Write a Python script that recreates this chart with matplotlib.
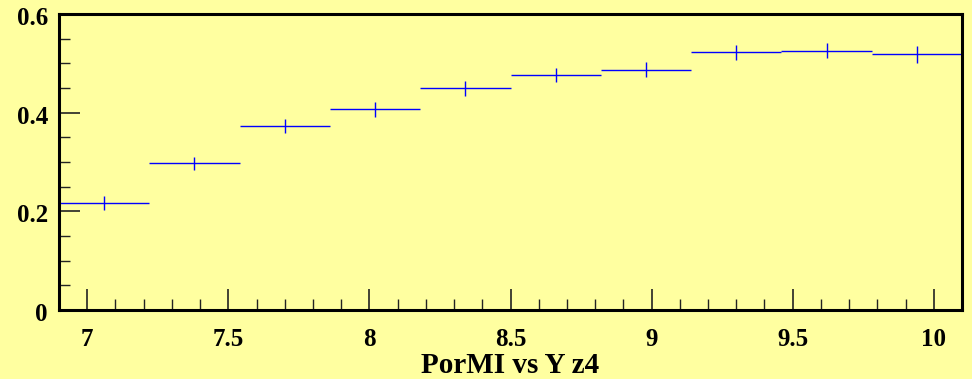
import matplotlib.pyplot as plt
import matplotlib.transforms as mtransforms
import numpy as np
from matplotlib.ticker import MultipleLocator

# histogram bins and content
bin_edges = [6.9, 7.22, 7.54, 7.86, 8.18, 8.5, 8.82, 9.14, 9.46, 9.78, 10.1]
values = [0.217, 0.297, 0.373, 0.407, 0.449, 0.476, 0.487, 0.522, 0.526, 0.518]
errors = [0.0146, 0.0135, 0.0145, 0.015, 0.015, 0.0145, 0.0155, 0.015, 0.0155, 0.017]
title = 'PorMI vs Y z4'

bg = '#ffffa0'
plt.rcParams['font.family'] = 'Liberation Serif'
plt.rcParams['font.weight'] = 'bold'

fig = plt.figure(figsize=(9.72, 3.79), dpi=100, facecolor=bg)
ax = fig.add_axes([59/972, 1 - 310/379, (962 - 59)/972, (310 - 14)/379])
ax.set_facecolor(bg)

edges = np.array(bin_edges)
centers = (edges[:-1] + edges[1:]) / 2
half = (edges[1:] - edges[:-1]) / 2
ax.errorbar(centers, values, xerr=half, yerr=errors, fmt='none',
            ecolor='#0000ff', elinewidth=1.0, capsize=0)

ax.set_xlim(6.9, 10.1)
ax.set_ylim(0, 0.6)
ax.xaxis.set_major_locator(MultipleLocator(0.5))
ax.xaxis.set_minor_locator(MultipleLocator(0.1))
ax.yaxis.set_major_locator(MultipleLocator(0.2))
ax.yaxis.set_minor_locator(MultipleLocator(0.05))
ax.tick_params(which='both', direction='in', top=False, right=False, color='#222222')
ax.tick_params(which='major', length=15, width=1.2, labelsize=18)
ax.tick_params(which='minor', length=8, width=1.0)
ax.tick_params(axis='x', pad=13)
ax.tick_params(axis='y', pad=8)
ax.set_xticks([7, 7.5, 8, 8.5, 9, 9.5, 10])
ax.set_xticklabels(['7', '7.5', '8', '8.5', '9', '9.5', '10'])
ax.set_yticks([0, 0.2, 0.4, 0.6])
ax.set_yticklabels(['0', '0.2', '0.4', '0.6'])
shift = mtransforms.ScaledTranslation(0, -2/100, fig.dpi_scale_trans)
for lab in ax.get_yticklabels():
    lab.set_transform(lab.get_transform() + shift)
for s in ax.spines.values():
    s.set_linewidth(2.2)
    s.set_color('black')

fig.text(510/972, 1 - 373/379, title, fontsize=21, fontweight='bold',
         ha='center', va='baseline')

fig.savefig('out.png', dpi=100, facecolor=bg)
